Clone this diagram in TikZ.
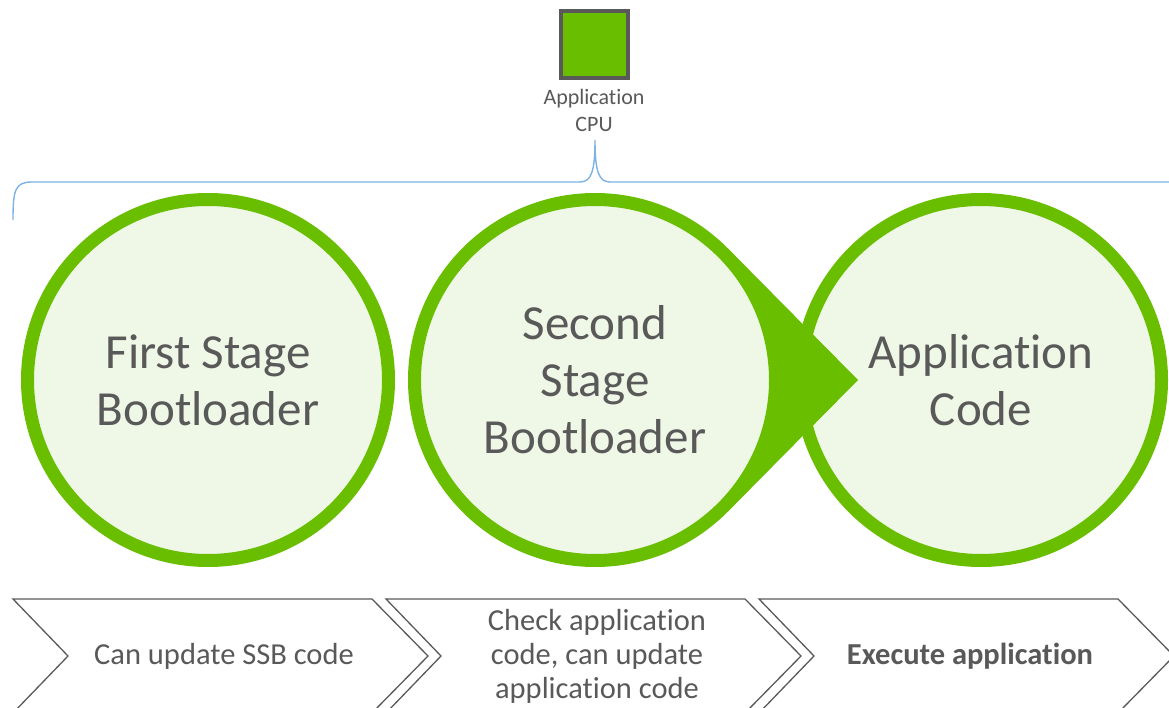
\documentclass[tikz,border=0pt]{standalone}
\usepackage{fontspec}
\setmainfont{Carlito}[Ligatures=NoCommon]
\usetikzlibrary{positioning}
\definecolor{leaf}{RGB}{106,190,0}
\definecolor{pale}{RGB}{239,247,230}
\definecolor{ink}{RGB}{89,89,89}
\definecolor{sky}{RGB}{125,178,228}
\tikzset{
  stage/.style={circle,draw=leaf,fill=pale,line width=13pt,minimum size=361pt,inner sep=0pt,text=ink,align=center,font=\fontsize{49}{57}\selectfont},
  phase/.style={text=ink,align=center,font=\fontsize{30.5}{34}\selectfont},
  chev/.style={draw=ink,line width=1.3pt},
}
\begin{document}
\begin{tikzpicture}[x=1pt,y=-1pt]
  \useasboundingbox (0,0) rectangle (1169,708);
  % processor on top
  \path (594,45) node[draw=ink,fill=leaf,line width=4pt,minimum size=67pt,inner sep=0pt] (cpu) {};
  \path node[below=9pt of cpu,inner sep=0pt,text=ink,align=center,font=\fontsize{22}{27}\selectfont] (cpulbl) {Application\\CPU};

  % brace under the label
  \coordinate (braceL) at (13,220);
  \coordinate (braceM) at (595,140);
  \coordinate (braceR) at (1190,182);
  \draw[sky,line width=1.4pt] (braceL) .. controls (13,190) and (15,182) .. (32,182) -- (580,182)
    .. controls (591,182) and (595,172) .. (braceM)
    .. controls (595,172) and (599,182) .. (610,182) -- (braceR);

  % the three stages
  \path (981,380) node[stage] (app) {Application\\Code};
  \coordinate (tip) at (858,380);
  \coordinate (ssbc) at (595,380);
  \fill[leaf] (728,248.5) -- (tip) -- (728,511.5) -- (ssbc) -- cycle;
  \path (ssbc) node[stage] (ssb) {Second\\Stage\\Bootloader};
  \path (208,380) node[stage] (fsb) {First Stage\\Bootloader};

  % steps along the bottom
  \draw[chev] (13,599) -- ++(359,0) -- ++(56,57) -- ++(-56,57) -- ++(-359,0) -- ++(55,-57) -- cycle;
  \draw[chev] (386,599) -- ++(359,0) -- ++(56,57) -- ++(-56,57) -- ++(-359,0) -- ++(55,-57) -- cycle;
  \draw[chev] (759,599) -- ++(359,0) -- ++(56,57) -- ++(-56,57) -- ++(-359,0) -- ++(55,-57) -- cycle;
  \path (224,656) node[phase] (ph1) {Can update SSB code};
  \path (597,656) node[phase] (ph2) {Check application\\code, can update\\application code};
  \path (970,656) node[phase,font=\fontsize{30.5}{34}\selectfont\bfseries] (ph3) {Execute application};
\end{tikzpicture}
\end{document}
